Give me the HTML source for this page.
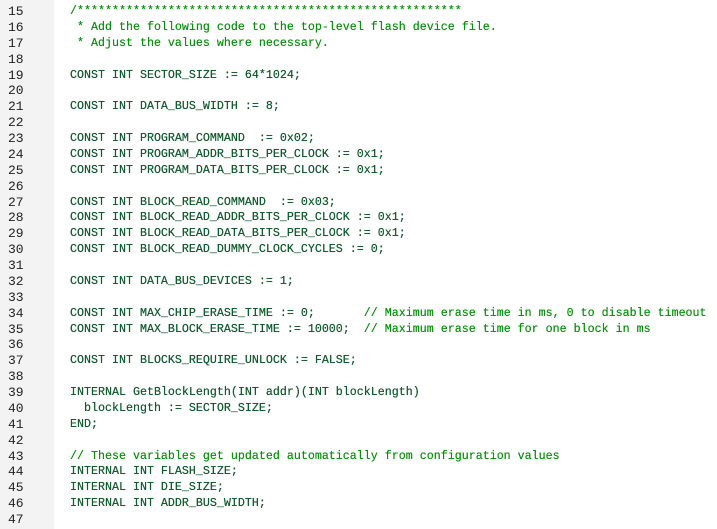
<!DOCTYPE html>
<html><head><meta charset="utf-8"><style>
html,body{margin:0;padding:0;width:717px;height:529px;overflow:hidden;background:#fff}
.g{position:absolute;left:0;top:0;width:37px;height:529px;background:#f3f3f3}
.d{position:absolute;left:37px;top:0;width:17px;height:529px;background-color:#f7f7f7;background-image:radial-gradient(#e8e8e8 0.6px,transparent 0.7px);background-size:2px 2px}
.n,.c{position:absolute;top:4px;font-family:"Liberation Mono",monospace;font-size:11.66px;line-height:15.875px;white-space:pre}
.n{left:8px;color:#222;font-size:13px}
.c{left:70px;color:#0f5a2c;text-shadow:0 0 0.4px #0f5a2c}
.m{color:#07920a;text-shadow:0 0 0.4px #07920a}
</style></head><body>
<div class="g"></div><div class="d"></div>
<div class="n">15
16
17
18
19
20
21
22
23
24
25
26
27
28
29
30
31
32
33
34
35
36
37
38
39
40
41
42
43
44
45
46
47</div>
<div class="c"><span class="m">/*******************************************************
 * Add the following code to the top-level flash device file.
 * Adjust the values where necessary.</span>

CONST INT SECTOR_SIZE := 64*1024;

CONST INT DATA_BUS_WIDTH := 8;

CONST INT PROGRAM_COMMAND  := 0x02;
CONST INT PROGRAM_ADDR_BITS_PER_CLOCK := 0x1;
CONST INT PROGRAM_DATA_BITS_PER_CLOCK := 0x1;

CONST INT BLOCK_READ_COMMAND  := 0x03;
CONST INT BLOCK_READ_ADDR_BITS_PER_CLOCK := 0x1;
CONST INT BLOCK_READ_DATA_BITS_PER_CLOCK := 0x1;
CONST INT BLOCK_READ_DUMMY_CLOCK_CYCLES := 0;

CONST INT DATA_BUS_DEVICES := 1;

CONST INT MAX_CHIP_ERASE_TIME := 0;       <span class="m">// Maximum erase time in ms, 0 to disable timeout</span>
CONST INT MAX_BLOCK_ERASE_TIME := 10000;  <span class="m">// Maximum erase time for one block in ms</span>

CONST INT BLOCKS_REQUIRE_UNLOCK := FALSE;

INTERNAL GetBlockLength(INT addr)(INT blockLength)
  blockLength := SECTOR_SIZE;
END;

<span class="m">// These variables get updated automatically from configuration values</span>
INTERNAL INT FLASH_SIZE;
INTERNAL INT DIE_SIZE;
INTERNAL INT ADDR_BUS_WIDTH;
</div>
</body></html>
